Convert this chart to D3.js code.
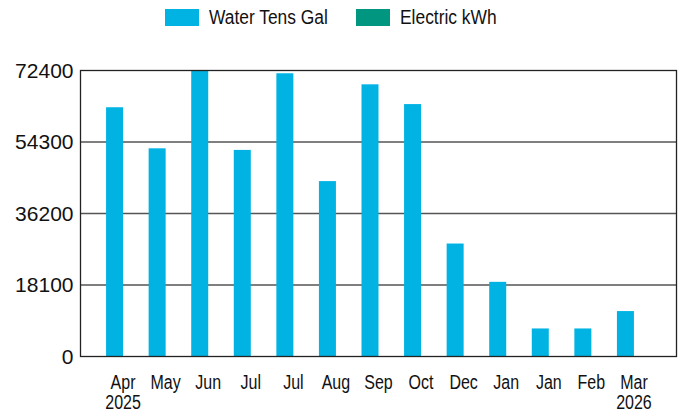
<!DOCTYPE html>
<html>
<head>
<meta charset="utf-8">
<script src="https://cdn.jsdelivr.net/npm/d3@7"></script>
<style>
  html, body { margin: 0; padding: 0; background: #fff; }
  svg { display: block; font-family: "Liberation Sans", Arial, sans-serif; }
</style>
</head>
<body>
<svg id="chart" width="681" height="416"></svg>
<script>
// month labels (x axis), years shown under first and last only
var months = ['Apr', 'May', 'Jun', 'Jul', 'Jul', 'Aug', 'Sep', 'Oct', 'Dec', 'Jan', 'Jan', 'Feb', 'Mar'];
var years = ['2025', '', '', '', '', '', '', '', '', '', '', '', '2026'];
var waterTensGal = [63100, 52700, 72400, 52300, 71700, 44400, 68900, 63900, 28600, 18900, 7100, 7100, 11500];
var electricKwh = [0, 0, 0, 0, 0, 0, 0, 0, 0, 0, 0, 0, 0];
var yTicks = [0, 18100, 36200, 54300, 72400];
var seriesNames = ['Water Tens Gal', 'Electric kWh'];
var seriesColors = ['#00b3e3', '#00967f'];

var svg = d3.select('#chart');
var plotL = 80.5, plotR = 676.5, plotT = 70.5, plotB = 356.5;

var idx = d3.range(months.length);
var x = d3.scalePoint().domain(idx).range([plotL, plotR]).padding(1);
var inner = d3.scaleBand().domain(['water', 'electric']).range([-17, 17]);
var y = d3.scaleLinear().domain([0, 72400]).range([plotB, plotT]);

// gridlines
svg.append('g')
    .selectAll('line')
    .data(yTicks.slice(1, -1))
    .enter().append('line')
    .attr('x1', plotL).attr('x2', plotR)
    .attr('y1', function (d) { return y(d); })
    .attr('y2', function (d) { return y(d); })
    .attr('stroke', '#555')
    .attr('stroke-width', 1.5);

// bars
var rows = idx.map(function (i) {
    return [
        { key: 'water', i: i, v: waterTensGal[i], c: seriesColors[0] },
        { key: 'electric', i: i, v: electricKwh[i], c: seriesColors[1] }
    ];
});
svg.append('g')
    .selectAll('g')
    .data(rows)
    .enter().append('g')
    .selectAll('rect')
    .data(function (d) { return d; })
    .enter().append('rect')
    .attr('x', function (d) { return x(d.i) + inner(d.key); })
    .attr('width', inner.bandwidth())
    .attr('y', function (d) { return y(d.v); })
    .attr('height', function (d) { return y(0) - y(d.v); })
    .attr('fill', function (d) { return d.c; });

// frame
svg.append('rect')
    .attr('x', plotL).attr('y', plotT)
    .attr('width', plotR - plotL).attr('height', plotB - plotT)
    .attr('fill', 'none')
    .attr('stroke', '#222')
    .attr('stroke-width', 1.3);

// y axis labels
var yAxis = d3.axisLeft(y).tickValues(yTicks).tickSize(0).tickPadding(7)
    .tickFormat(function (d) { return String(d); });
svg.append('g')
    .attr('transform', 'translate(' + plotL + ',0)')
    .call(yAxis)
    .call(function (g) { g.select('.domain').remove(); })
    .selectAll('text')
    .attr('font-family', '"Liberation Sans", Arial, sans-serif')
    .attr('font-size', 21)
    .attr('fill', '#111');

// x axis labels (condensed), month + optional year as one text
var xl = svg.append('g')
    .selectAll('text')
    .data(idx)
    .enter().append('text')
    .attr('transform', function (i) { return 'translate(' + x(i) + ',389) scale(0.8,1)'; })
    .attr('text-anchor', 'middle')
    .attr('font-size', 20)
    .attr('fill', '#111');
xl.append('tspan')
    .attr('x', 0)
    .text(function (i) { return months[i]; });
xl.filter(function (i) { return years[i] !== ''; })
    .append('tspan')
    .attr('x', 0)
    .attr('dy', 20)
    .text(function (i) { return years[i]; });

// legend
var legX = [165, 356];
var leg = svg.append('g')
    .selectAll('g')
    .data(seriesNames)
    .enter().append('g')
    .attr('transform', function (d, i) { return 'translate(' + legX[i] + ',9)'; });
leg.append('rect')
    .attr('width', 34).attr('height', 17)
    .attr('fill', function (d, i) { return seriesColors[i]; });
leg.append('text')
    .attr('transform', 'translate(44,15.3) scale(0.87,1)')
    .attr('font-size', 20)
    .attr('fill', '#111')
    .text(function (d) { return d; });
</script>
</body>
</html>
